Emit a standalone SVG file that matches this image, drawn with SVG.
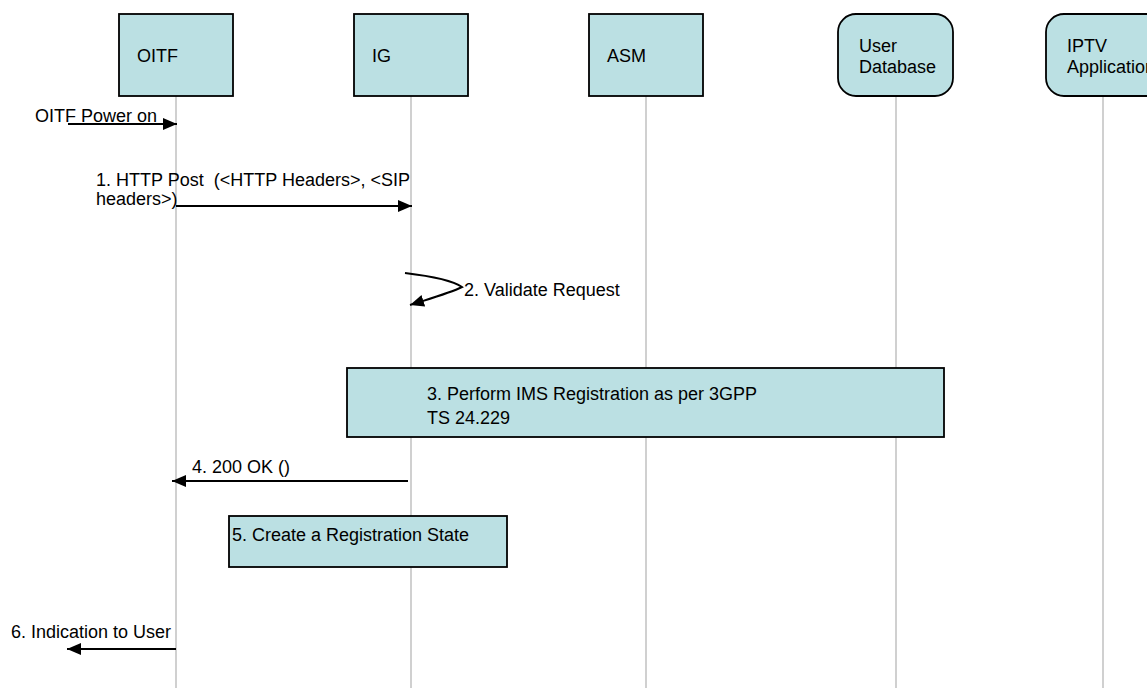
<svg xmlns="http://www.w3.org/2000/svg" width="1147" height="688" viewBox="0 0 1147 688">
<style>
  .box { fill: #bbe0e3; stroke: #000; stroke-width: 1.8; }
  .life { stroke: #c0c0c0; stroke-width: 1.5; fill: none; }
  .msg { stroke: #000; stroke-width: 2; fill: none; marker-end: url(#ah); }
  text { font-family: "Liberation Sans", Arial, sans-serif; font-size: 18px; fill: #000; }
  .pre { white-space: pre; }
</style>
<defs>
  <marker id="ah" viewBox="0 0 14 12" refX="14" refY="6" markerWidth="14" markerHeight="12" markerUnits="userSpaceOnUse" orient="auto">
    <path d="M0,0 L14,6 L0,12 z" fill="#000"/>
  </marker>
</defs>
<rect width="1147" height="688" fill="#fff"/>

<g id="lifelines">
  <line class="life" x1="176" y1="96" x2="176" y2="688"/>
  <line class="life" x1="411" y1="96" x2="411" y2="688"/>
  <line class="life" x1="646" y1="96" x2="646" y2="688"/>
  <line class="life" x1="896" y1="96" x2="896" y2="688"/>
  <line class="life" x1="1103" y1="96" x2="1103" y2="688"/>
</g>

<g id="node-oitf">
  <rect class="box" x="119" y="14" width="114" height="82"/>
  <text x="137" y="62">OITF</text>
</g>
<g id="node-ig">
  <rect class="box" x="354" y="14" width="114" height="82"/>
  <text x="372" y="62">IG</text>
</g>
<g id="node-asm">
  <rect class="box" x="589" y="14" width="114" height="82"/>
  <text x="607" y="62">ASM</text>
</g>
<g id="node-userdb">
  <rect class="box" x="838" y="14" width="115" height="82" rx="18" ry="18"/>
  <text x="859" y="52">User</text>
  <text x="859" y="73">Database</text>
</g>
<g id="node-iptv">
  <rect class="box" x="1046" y="14" width="120" height="82" rx="18" ry="18"/>
  <text x="1067" y="52">IPTV</text>
  <text x="1067" y="73">Application</text>
</g>

<g id="node-step3">
  <rect class="box" x="347" y="368" width="597" height="69"/>
  <text x="427" y="400">3. Perform IMS Registration as per 3GPP</text>
  <text x="427" y="424">TS 24.229</text>
</g>
<g id="node-step5">
  <rect class="box" x="229" y="516" width="278" height="51"/>
  <text x="232" y="541">5. Create a Registration State</text>
</g>

<g id="labels">
  <text x="35" y="122">OITF Power on</text>
  <text class="pre" xml:space="preserve" x="96" y="186">1. HTTP Post  (&lt;HTTP Headers&gt;, &lt;SIP</text>
  <text x="96" y="205">headers&gt;)</text>
  <text x="464" y="296">2. Validate Request</text>
  <text x="192" y="473">4. 200 OK ()</text>
  <text x="11" y="638">6. Indication to User</text>
</g>

<g id="connectors">
  <line class="msg" x1="68" y1="124" x2="177" y2="124"/>
  <line class="msg" x1="176" y1="206" x2="412" y2="206"/>
  <path class="msg" d="M405,273 C430,276 452,280 462,287 C450,293 432,298 410,305"/>
  <line class="msg" x1="408" y1="481" x2="172" y2="481"/>
  <line class="msg" x1="176" y1="649" x2="67" y2="649"/>
</g>
</svg>
